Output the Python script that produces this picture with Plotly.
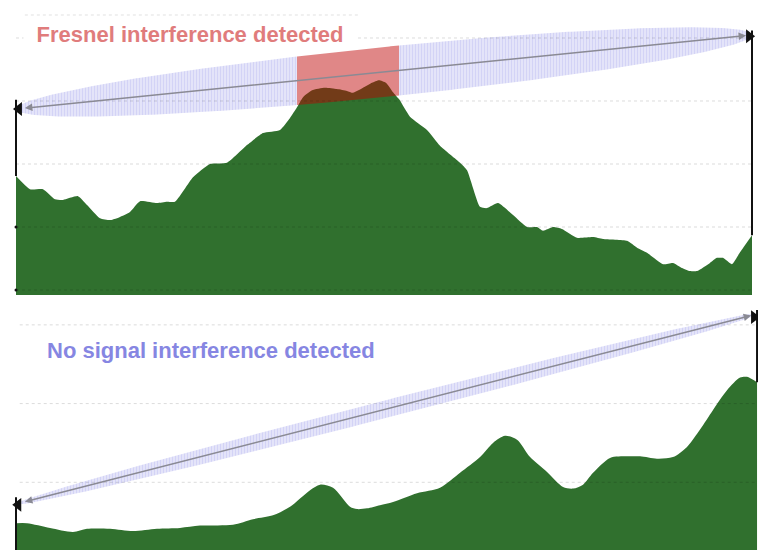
import numpy as np
import plotly.graph_objects as go

# ---------------- data ----------------
# Upper link: distance along path (% of link length) and terrain elevation (m)
top_dist = [0, 1.9, 3.67, 5.3, 6.39, 8.42, 9.65, 11.41, 12.77, 13.72, 15.49, 16.85, 19.16, 20.52, 21.6,
            24.05, 26.36, 28.67, 31.39, 33.56, 35.87, 37.23, 38.18, 39.0, 40.22, 41.98, 43.61, 44.97,
            45.79, 47.15, 48.37, 49.32, 50.27, 51.22, 52.04, 53.53, 55.84, 57.61, 60.33, 61.28, 63.04,
            63.99, 65.49, 67.53, 69.43, 70.79, 71.6, 72.96, 74.18, 76.22, 78.4, 79.76, 83.02, 84.38,
            85.73, 87.91, 89.27, 90.49, 91.58, 92.53, 94.29, 95.24, 96.06, 97.28, 98.37, 100]
top_elev = [181, 160, 160, 144, 143, 149, 135, 114, 111, 114, 124, 141, 138, 140, 140,
            179, 200, 202, 230, 249, 254, 273, 290, 306, 317, 321, 319, 316,
            313, 321, 329, 333, 329, 314, 303, 275, 254, 229, 202, 190, 132,
            130, 138, 119, 100, 100, 94, 100, 97, 83, 84, 81, 78, 67,
            59, 41, 43, 35, 30, 30, 43, 51, 51, 41, 60, 87]

# Lower link
bot_dist = [0, 1.48, 4.59, 7.69, 9.58, 12.69, 15.79, 19.03, 22.13, 24.83, 29.28, 31.98, 34.68, 36.98,
            39.68, 41.03, 42.78, 45.07, 46.02, 47.37, 49.12, 50.88, 54.12, 57.22, 59.92, 62.62, 64.37,
            65.99, 67.61, 69.37, 71.66, 73.82, 75.17, 76.52, 77.87, 80.16, 82.46, 84.21, 86.5, 88.66,
            90.55, 92.31, 94.06, 95.95, 97.71, 98.65, 100]
bot_elev = [48, 48, 42, 37, 41, 41, 38, 41, 42, 45, 46, 53, 58, 69,
            90, 97, 93, 69, 66, 67, 71, 75, 86, 93, 112, 132, 150,
            159, 154, 132, 113, 94, 92, 97, 112, 131, 133, 133, 130, 132,
            145, 167, 192, 217, 233, 234, 227]

# Link end heights (antenna tips) and first Fresnel zone radius
top_link = dict(y_start=287.3, y_end=404.8, radius=39.7, mast_start=302, mast_end=412)
bot_link = dict(y_start=72.4, y_end=313.9, radius=11.4, mast_start=81, mast_end=319)
blocked = (38.18, 52.04)   # section of the upper Fresnel zone obstructed by terrain

top_label = "Fresnel interference detected"
bot_label = "No signal interference detected"
grid_top = [0, 100, 200, 300, 400]
grid_bot = [100, 200, 300]

GREEN = "#30702e"
FONT = "Liberation Sans, Arial, sans-serif"


def zone(link, d0, d1, n=120):
    t = np.linspace(d0 / 100, d1 / 100, n)
    x = 100 * t
    c = link["y_start"] + (link["y_end"] - link["y_start"]) * t
    r = link["radius"] * np.sqrt(np.clip(4 * t * (1 - t), 0, None))
    return np.concatenate([x, x[::-1]]), np.concatenate([c + r, (c - r)[::-1]])


def line_y(link, d):
    return link["y_start"] + (link["y_end"] - link["y_start"]) * d / 100


lav = dict(shape="|", size=3, solidity=0.4, fgcolor="#c0c0f2", bgcolor="#e6e6fa")

fig = go.Figure()

# ---- upper panel ----
fig.add_trace(go.Scatter(x=[0, 100], y=[-8, -8], mode="lines", line=dict(width=0),
                         hoverinfo="skip", xaxis="x", yaxis="y"))
fig.add_trace(go.Scatter(x=top_dist, y=top_elev, mode="lines", fill="tonexty", fillcolor=GREEN,
                         line=dict(width=0, shape="spline", smoothing=0.5), xaxis="x", yaxis="y"))
for a, b, obstructed in [(0, blocked[0], False), (blocked[0], blocked[1], True), (blocked[1], 100, False)]:
    zx, zy = zone(top_link, a, b)
    if obstructed:
        fig.add_trace(go.Scatter(x=zx, y=zy, mode="lines", fill="toself",
                                 fillcolor="rgba(190,0,0,0.47)", line=dict(width=0),
                                 xaxis="x", yaxis="y"))
    else:
        fig.add_trace(go.Scatter(x=zx, y=zy, mode="lines", fill="toself", fillpattern=lav,
                                 fillcolor="rgba(0,0,0,0)", line=dict(width=0), xaxis="x", yaxis="y"))

# ---- lower panel ----
fig.add_trace(go.Scatter(x=bot_dist, y=bot_elev, mode="lines", fill="tozeroy", fillcolor=GREEN,
                         line=dict(width=0, shape="spline", smoothing=0.8), xaxis="x2", yaxis="y2"))
zx, zy = zone(bot_link, 0, 100)
fig.add_trace(go.Scatter(x=zx, y=zy, mode="lines", fill="toself", fillpattern=lav,
                         fillcolor="rgba(0,0,0,0)", line=dict(width=0), xaxis="x2", yaxis="y2"))

# masts
fig.add_trace(go.Scatter(x=[0, 0, None, 100, 100], y=[top_elev[0], top_link["mast_start"], None,
                                                       top_elev[-1], top_link["mast_end"]],
                         mode="lines", line=dict(color="#111", width=2), xaxis="x", yaxis="y"))
fig.add_trace(go.Scatter(x=[0, 0, None, 100, 100], y=[0, bot_link["mast_start"], None,
                                                       bot_elev[-1], bot_link["mast_end"]],
                         mode="lines", line=dict(color="#111", width=2), xaxis="x2", yaxis="y2"))
# antenna heads
fig.add_trace(go.Scatter(x=[0.4, 99.6], y=[top_link["y_start"], line_y(top_link, 100) - 2],
                         mode="markers", marker=dict(symbol=["triangle-left", "triangle-right"],
                                                     size=12, color="#111"),
                         cliponaxis=False, xaxis="x", yaxis="y"))
fig.add_trace(go.Scatter(x=[0.3, 99.6], y=[bot_link["y_start"] - 1, line_y(bot_link, 100) - 4],
                         mode="markers", marker=dict(symbol=["triangle-left", "triangle-right"],
                                                     size=12, color="#111"),
                         cliponaxis=False, xaxis="x2", yaxis="y2"))
fig.add_trace(go.Scatter(x=[0, 0], y=[0, 100], mode="markers", marker=dict(size=3, color="#111"),
                         cliponaxis=False, xaxis="x", yaxis="y"))

shapes = []
for g in grid_top:
    shapes.append(dict(type="line", xref="x", yref="y", x0=0, x1=100, y0=g, y1=g, layer="above",
                       line=dict(color="rgba(0,0,0,0.14)", width=1, dash="dot")))
shapes.append(dict(type="line", xref="x", yref="y", x0=1.2, x1=46.7, y0=436.5, y1=436.5, layer="above",
                   line=dict(color="rgba(0,0,0,0.12)", width=1, dash="dot")))
for g in grid_bot:
    shapes.append(dict(type="line", xref="x2", yref="y2", x0=0.5, x1=100, y0=g, y1=g, layer="above",
                       line=dict(color="rgba(0,0,0,0.14)", width=1, dash="dot")))

annotations = []
for ax_, ay_, lk in [("x", "y", top_link), ("x2", "y2", bot_link)]:
    annotations.append(dict(x=99.2, y=line_y(lk, 99.2), ax=1.0, ay=line_y(lk, 1.0),
                            xref=ax_, yref=ay_, axref=ax_, ayref=ay_, text="", showarrow=True,
                            arrowhead=2, startarrowhead=2, arrowside="end+start",
                            arrowsize=1, startarrowsize=1, arrowwidth=1.5, arrowcolor="#8a8a94"))
annotations.append(dict(x=190 / 758, y=(550 - 34) / 550, xref="paper", yref="paper",
                        xanchor="center", yanchor="middle",
                        text="<b>" + top_label + "</b>", showarrow=False, bgcolor="white",
                        width=330, height=26, borderpad=1,
                        font=dict(family=FONT, size=22, color="#e07c7c")))
annotations.append(dict(x=211 / 758, y=(550 - 350) / 550, xref="paper", yref="paper",
                        xanchor="center", yanchor="middle",
                        text="<b>" + bot_label + "</b>", showarrow=False,
                        font=dict(family=FONT, size=22, color="#8686e2")))

fig.update_layout(
    width=758, height=550, margin=dict(l=0, r=0, t=0, b=0),
    paper_bgcolor="white", plot_bgcolor="white", showlegend=False,
    xaxis=dict(domain=[12 / 758, 756 / 758], range=[-0.543, 100.543], visible=False, anchor="y"),
    yaxis=dict(domain=[(550 - 296) / 550, (550 - 8) / 550], range=[-9.52, 447.6], visible=False, anchor="x"),
    xaxis2=dict(domain=[12 / 758, 1], range=[-0.54, 100.13], visible=False, anchor="y2"),
    yaxis2=dict(domain=[0, 250 / 550], range=[14.0, 331.6], visible=False, anchor="x2"),
    shapes=shapes, annotations=annotations,
)

fig.write_html("out.html", config={"displayModeBar": False},
               post_script="document.body.style.margin='0px';")
